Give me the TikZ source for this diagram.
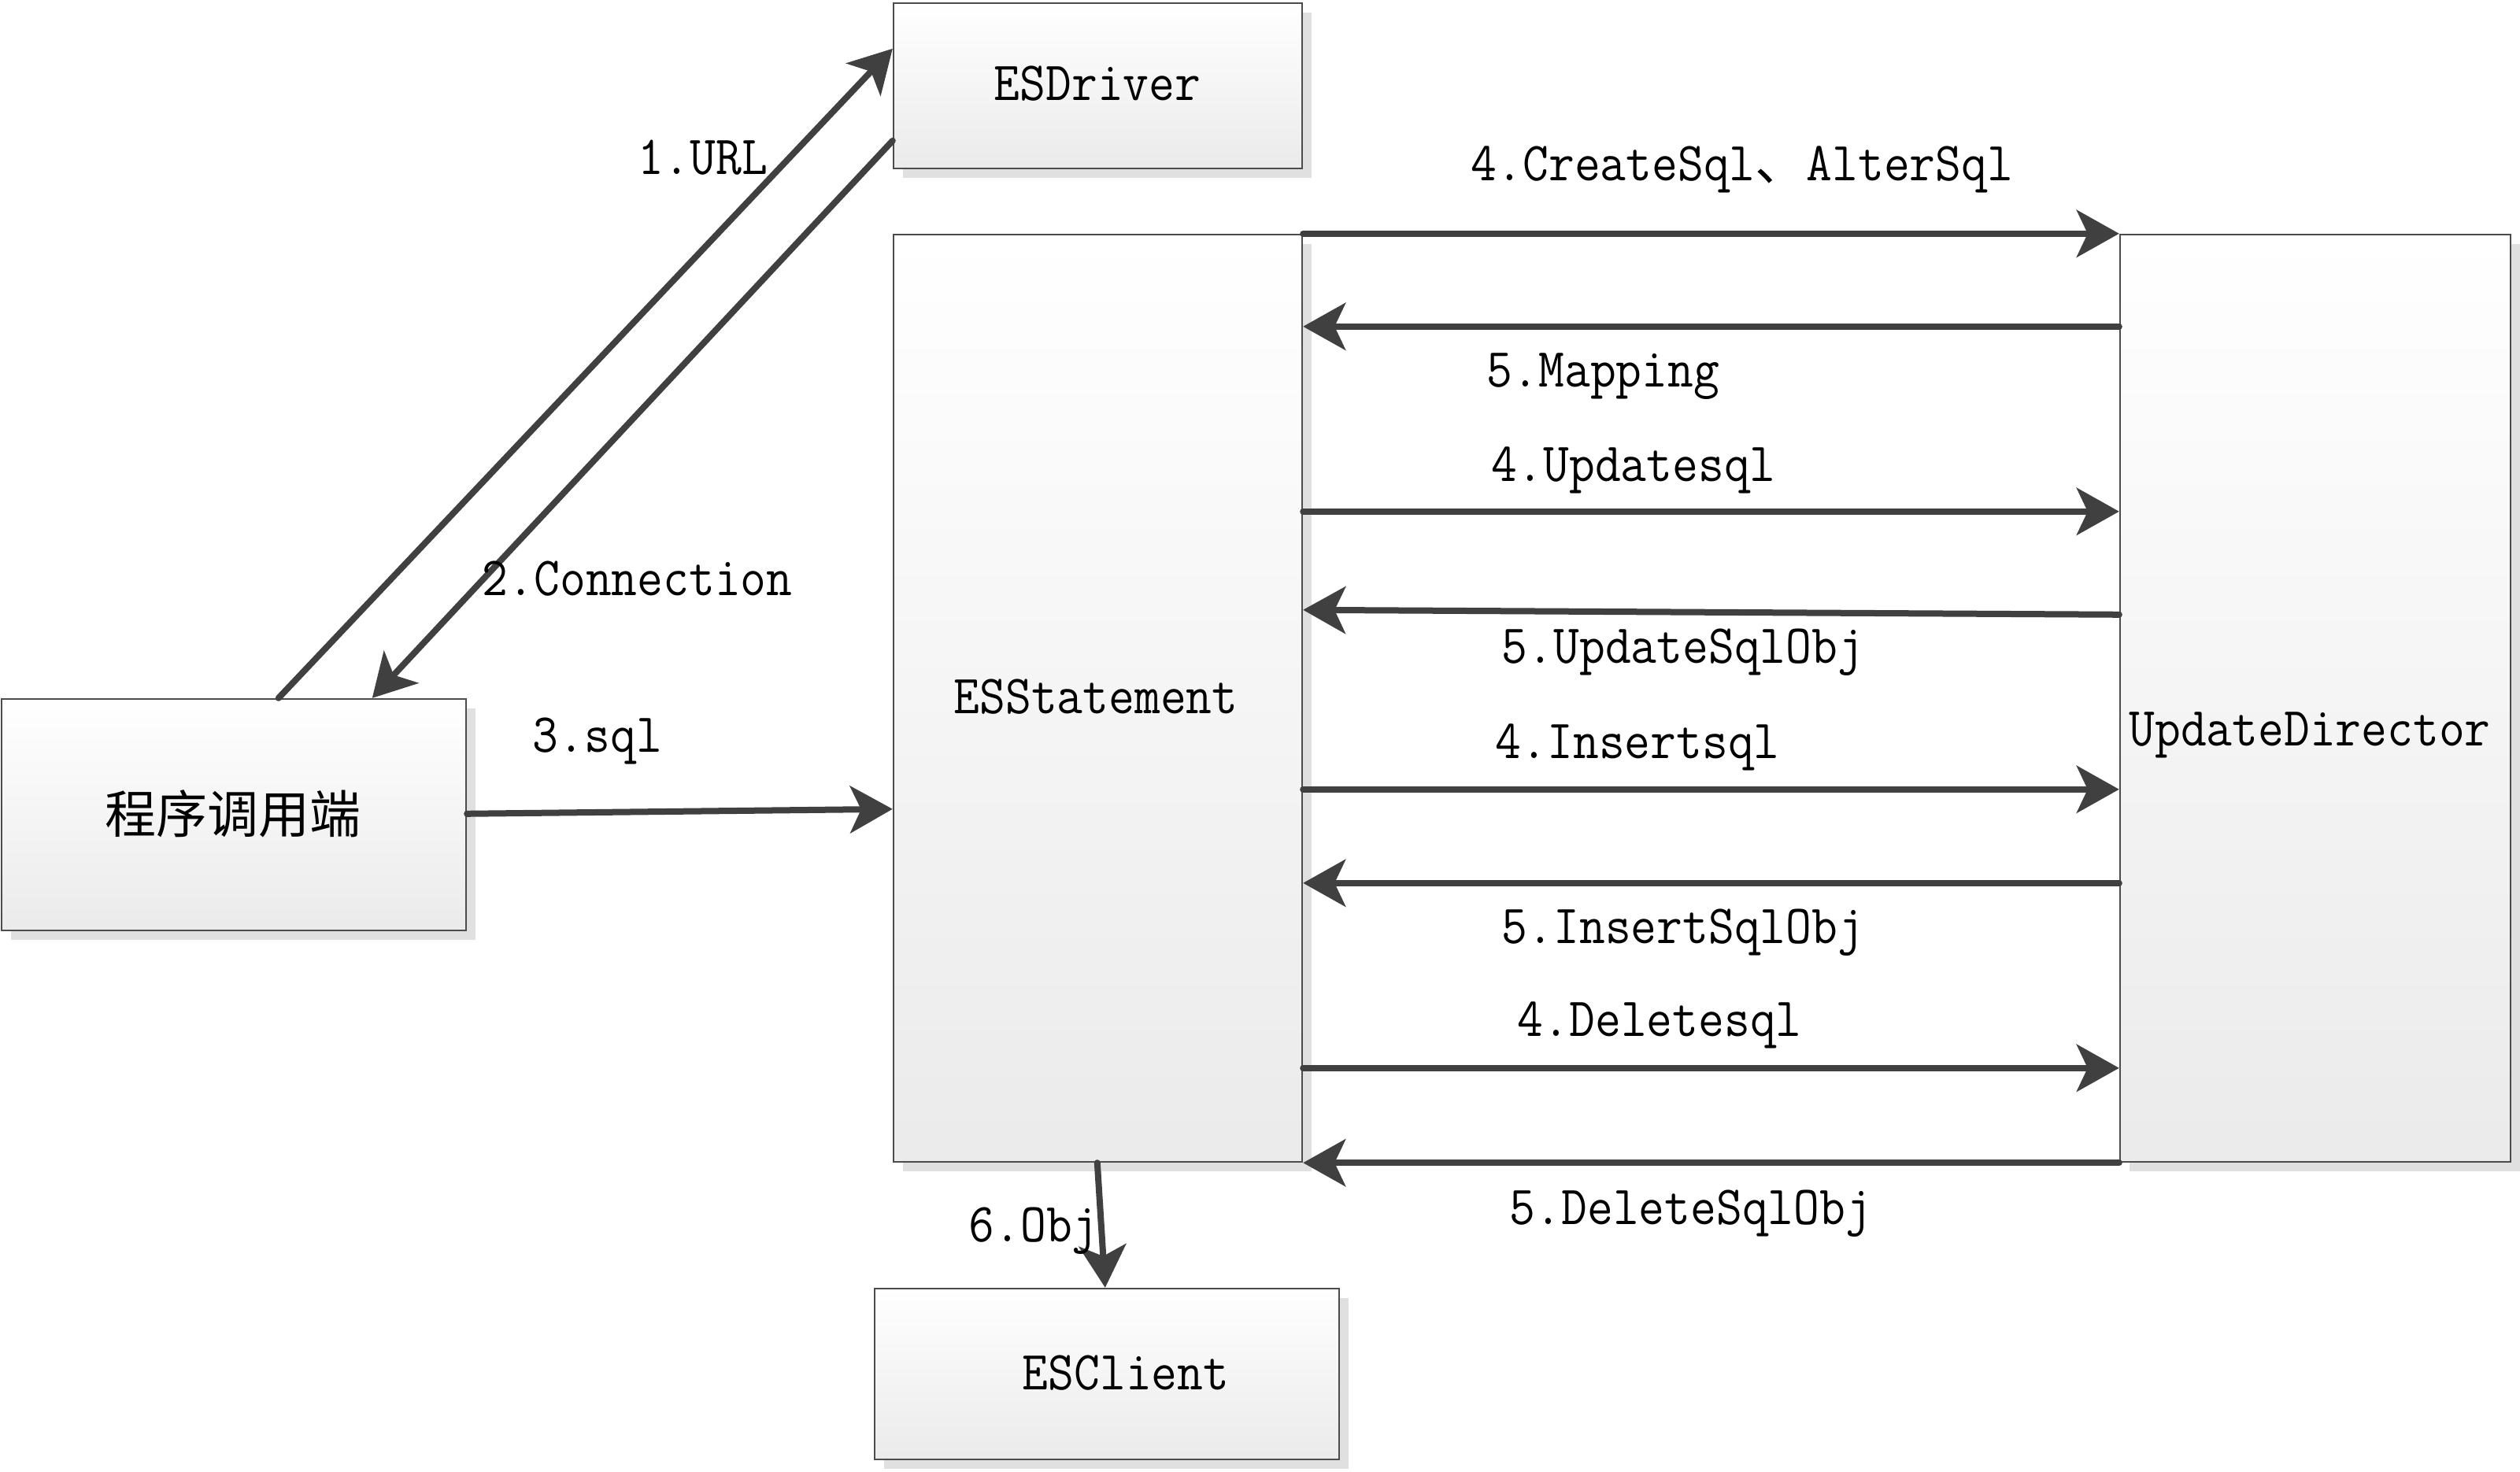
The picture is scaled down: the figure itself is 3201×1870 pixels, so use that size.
\documentclass[tikz,border=0pt]{standalone}
\usepackage{fontspec}
\setmainfont{Latin Modern Mono}[FakeStretch=0.91]
\newfontfamily\cjk{Noto Sans CJK SC}
\usetikzlibrary{arrows.meta,calc,shadows}
\newcommand\lbfont{\fontsize{17.5pt}{20pt}\selectfont}
\newcommand\cjkfont{\cjk\fontsize{16.25pt}{18pt}\selectfont}
\begin{document}
\begin{tikzpicture}[x=0.25pt,y=-0.25pt,
  box/.style={draw=black!70, line width=0.6pt, top color=white, bottom color=black!8,
    inner sep=0pt, drop shadow={shadow xshift=3pt, shadow yshift=-3pt, fill=black!12, opacity=1}},
  arr/.style={draw=black!75, line width=2pt, line cap=round,
    -{Stealth[length=13.5pt,width=15pt,inset=3.5pt]}},
  lbl/.style={inner sep=0pt, anchor=base west, font=\lbfont},
  txt/.style={inner sep=0pt, anchor=base, font=\lbfont}]
\useasboundingbox (0,0) rectangle (3201,1870);

% boxes
\node[box, minimum width=147.5pt, minimum height=73.5pt]  (A) at (297,1035)   {};
\node[box, minimum width=129.75pt, minimum height=52.5pt] (B) at (1394.5,109) {};
\node[box, minimum width=129.75pt, minimum height=294.5pt] (C) at (1394.5,887) {};
\node[box, minimum width=124pt, minimum height=294.5pt]   (D) at (2941,887)   {};
\node[box, minimum width=147.5pt, minimum height=54.25pt] (E) at (1406,1745.5) {};

% box texts
\node[txt] (tA) at (296,1058) {\cjkfont 程序调用端};
\node[txt] (tB) at (1394,128) {ESDriver};
\node[txt] (tC) at (1392,906) {ESStatement};
\node[txt] (tD) at (2934,947) {UpdateDirector};
\node[txt] (tE) at (1430,1765) {ESClient};

% connectors
\draw[arr] ($(A.north west)+(353,0)$) -- ($(B.north west)+(0,59)$);
\draw[arr] ($(B.north west)+(0,176)$) -- ($(A.north west)+(472,0)$);
\draw[arr] ($(A.north east)+(0,147)$) -- ($(C.north west)+(0,731)$);
\draw[arr] ($(C.south west)+(260,0)$) -- ($(E.north west)+(294,0)$);

\draw[arr] ($(C.north east)+(0,0)$)   -- ($(D.north west)+(0,0)$);
\draw[arr] ($(D.north west)+(0,118)$) -- ($(C.north east)+(0,118)$);
\draw[arr] ($(C.north east)+(0,353)$) -- ($(D.north west)+(0,353)$);
\draw[arr] ($(D.north west)+(0,484)$) -- ($(C.north east)+(0,478)$);
\draw[arr] ($(C.north east)+(0,706)$) -- ($(D.north west)+(0,706)$);
\draw[arr] ($(D.north west)+(0,825)$) -- ($(C.north east)+(0,825)$);
\draw[arr] ($(C.north east)+(0,1060)$) -- ($(D.north west)+(0,1060)$);
\draw[arr] ($(D.south west)$) -- ($(C.south east)$);

% labels
\node[lbl] (l1) at (810,222) {1.URL};
\node[lbl] (l2) at (612,757) {2.Connection};
\node[lbl] (l3) at (676,955) {3.sql};
\node[lbl] (l4a) at (1868,230) {4.CreateSql{\cjkfont 、}AlterSql};
\node[lbl] (l5a) at (1888,492) {5.Mapping};
\node[lbl] (l4b) at (1894,612) {4.Updatesql};
\node[lbl] (l5b) at (1907,843) {5.UpdateSqlObj};
\node[lbl] (l4c) at (1899,963) {4.Insertsql};
\node[lbl] (l5c) at (1907,1198) {5.InsertSqlObj};
\node[lbl] (l4d) at (1927,1316) {4.Deletesql};
\node[lbl] (l5d) at (1917,1555) {5.DeleteSqlObj};
\node[lbl] (l6) at (1230,1577) {6.Obj};
\end{tikzpicture}
\end{document}
